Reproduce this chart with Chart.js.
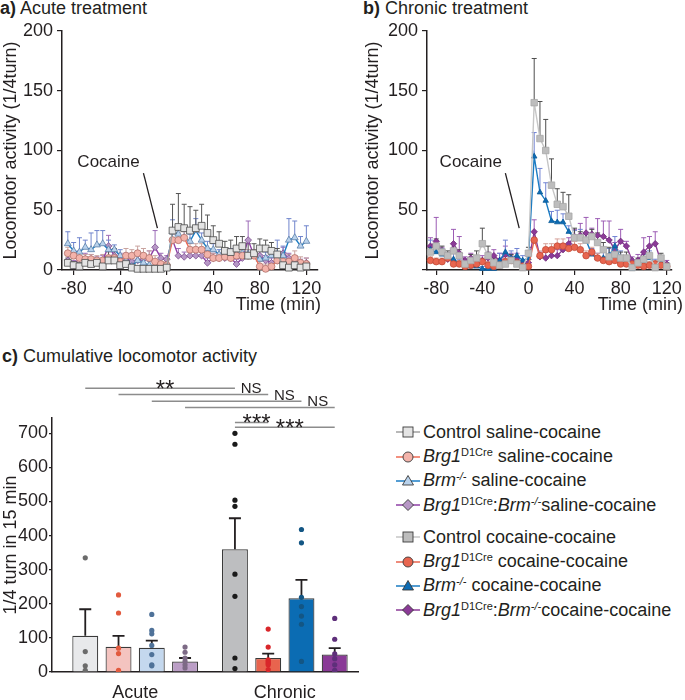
<!DOCTYPE html>
<html>
<head>
<meta charset="utf-8">
<script src="https://cdn.jsdelivr.net/npm/chart.js@4.4.1/dist/chart.umd.min.js"></script>
<style>
  body { margin: 0; background: #fff; font-family: 'Liberation Sans', Arial, sans-serif; color: #231f20; }
  #fig { position: relative; width: 685px; height: 700px; overflow: hidden; }
  canvas { position: absolute; }
  .ptitle { position: absolute; font-size: 18px; line-height: 20px; white-space: nowrap; }
  .xtitle { position: absolute; font-size: 18px; line-height: 20px; white-space: nowrap; }
  .legend { position: absolute; left: 396px; font-size: 18px; }
  .row { height: 24.4px; display: flex; align-items: center; white-space: nowrap; }
  .row svg { margin-right: 3px; flex: none; }
  sup { font-size: 11px; vertical-align: 6px; line-height: 0; }
</style>
</head>
<body>
<div id="fig">
  <div class="ptitle" style="left:0; top:-2px;"><b>a)</b> Acute treatment</div>
  <div class="ptitle" style="left:363px; top:-2px;"><b>b)</b> Chronic treatment</div>
  <div class="ptitle" style="left:2px; top:346px;"><b>c)</b> Cumulative locomotor activity</div>
  <canvas id="chartA" width="335" height="320" style="left:0; top:0;"></canvas>
  <canvas id="chartB" width="330" height="320" style="left:355px; top:0;"></canvas>
  <canvas id="chartC" width="370" height="330" style="left:0; top:370px;"></canvas>
  <div class="xtitle" style="right:364px; top:294px;">Time (min)</div>
  <div class="xtitle" style="right:2px; top:294px;">Time (min)</div>
  <div class="legend" id="legend1" style="top:420px;"></div>
  <div class="legend" id="legend2" style="top:525px;"></div>
</div>
<script>
// ===== data =====
// 5-min bins, cocaine injection at 0
const timePoints = [-85, -80, -75, -70, -65, -60, -55, -50, -45, -40, -35, -30, -25, -20, -15, -10, -5, 0,
  5, 10, 15, 20, 25, 30, 35, 40, 45, 50, 55, 60, 65, 70, 75, 80, 85, 90, 95, 100, 105, 110, 115, 120];

// a) acute (saline-cocaine), mean
const ctrlSaline = [6, 4, 3, 6, 5, 6, 3, 8, 8, 4, 5, 2, 1, 1, 1, 1, 1, 2,
  33, 36, 35, 33, 35, 37, 31, 25, 22, 16, 15, 18, 20, 12, 14, 18, 18, 16, 13, 4, 2, 4, 2, 3];
const brg1Saline = [14, 12, 10, 9, 9, 8, 8, 10, 10, 7, 12, 12, 14, 12, 10, 7, 5, 4,
  25, 25, 27, 17, 17, 17, 13, 10, 10, 11, 10, 12, 12, 12, 12, 3, 1, 3, 8, 7, 7, 10, 6, 5];
const brmSaline = [22, 16, 15, 19, 17, 21, 22, 17, 17, 12, 8, 3, 8, 6, 4, 2, 3, 3,
  32, 30, 27, 24, 33, 25, 18, 17, 13, 11, 14, 14, 14, 13, 12, 9, 10, 12, 13, 12, 25, 27, 20, 24];
const dblSaline = [8, 4, 10, 9, 8, 7, 8, 20, 12, 10, 10, 7, 8, 9, 10, 19, 10, 9,
  25, 12, 11, 12, 12, 12, 6, 10, 10, 10, 10, 5, 10, 25, 12, 12, 8, 6, 8, 14, 10, 8, 5, 6];
// a) SEM
const ctrlSalineErr = [4, 3, 3, 4, 4, 3, 3, 12, 10, 4, 5, 3, 2, 2, 2, 2, 2, 2,
  22, 28, 20, 20, 15, 18, 15, 12, 10, 8, 10, 10, 8, 10, 8, 8, 7, 7, 5, 5, 5, 5, 4, 4];
const brg1SalineErr = [5, 4, 5, 4, 4, 4, 5, 5, 5, 6, 6, 5, 6, 6, 6, 5, 4, 3,
  5, 6, 5, 5, 5, 5, 5, 4, 4, 4, 4, 5, 5, 5, 5, 4, 4, 4, 5, 6, 6, 6, 5, 5];
const brmSalineErr = [10, 7, 12, 6, 14, 12, 11, 8, 4, 5, 4, 3, 4, 3, 3, 3, 2, 2,
  10, 8, 7, 6, 10, 6, 6, 5, 4, 4, 4, 6, 5, 4, 4, 4, 5, 5, 12, 8, 18, 14, 8, 13];
const dblSalineErr = [5, 4, 6, 5, 5, 4, 4, 9, 5, 4, 4, 4, 4, 4, 6, 14, 4, 3,
  8, 6, 4, 4, 4, 4, 4, 4, 4, 4, 4, 4, 4, 16, 5, 5, 4, 4, 4, 5, 4, 4, 4, 4];

// b) chronic (cocaine-cocaine), mean
const ctrlCocaine = [15, 20, 15, 12, 16, 12, 5, 8, 10, 22, 12, 6, 4, 5, 8, 5, 2, 14,
  140, 110, 100, 71, 55, 53, 45, 27, 27, 25, 28, 23, 17, 11, 13, 10, 10, 2, 6, 9, 12, 2, 10, 3];
const brg1Cocaine = [8, 7, 7, 10, 5, 5, 3, 4, 5, 7, 4, 3, 4, 7, 8, 6, 3, 3,
  25, 12, 17, 17, 20, 20, 18, 19, 17, 12, 15, 10, 8, 7, 8, 5, 5, 5, 4, 3, 4, 5, 4, 3];
const brmCocaine = [17, 15, 13, 10, 9, 5, 4, 3, 3, 1, 1, 1, 8, 15, 10, 12, 8, 10,
  95, 65, 58, 41, 40, 40, 32, 27, 26, 25, 13, 10, 10, 12, 20, 10, 8, 1, 5, 8, 10, 5, 7, 3];
const dblCocaine = [20, 24, 15, 9, 22, 14, 8, 10, 8, 8, 10, 12, 8, 13, 10, 10, 5, 6,
  32, 11, 10, 12, 12, 17, 22, 28, 29, 31, 30, 29, 28, 25, 17, 24, 20, 8, 8, 15, 20, 22, 7, 5];
// b) SEM
const ctrlCocaineErr = [4, 6, 5, 4, 6, 5, 4, 5, 6, 13, 8, 4, 3, 4, 5, 4, 3, 5,
  37, 31, 26, 22, 13, 12, 18, 8, 5, 6, 6, 8, 6, 8, 5, 5, 5, 3, 4, 6, 7, 5, 4, 3];
const brg1CocaineErr = [3, 3, 3, 3, 3, 3, 2, 2, 3, 3, 3, 2, 3, 4, 4, 3, 2, 2,
  6, 4, 5, 5, 6, 6, 5, 5, 5, 4, 4, 4, 3, 3, 3, 3, 3, 2, 2, 3, 3, 3, 3, 2];
const brmCocaineErr = [8, 6, 5, 4, 5, 4, 3, 2, 2, 2, 2, 2, 6, 10, 6, 6, 4, 5,
  20, 20, 15, 8, 10, 7, 5, 6, 8, 6, 5, 4, 5, 6, 8, 6, 4, 2, 4, 5, 6, 4, 4, 3];
const dblCocaineErr = [7, 20, 4, 5, 12, 14, 3, 4, 4, 4, 5, 5, 6, 7, 4, 4, 3, 5,
  10, 4, 5, 4, 5, 5, 5, 6, 10, 13, 5, 14, 13, 16, 6, 10, 4, 3, 5, 12, 8, 10, 4, 3];

// c) cumulative activity (1/4 turn in 15 min)
const groupNames = ['Acute', 'Chronic'];
const barMeans = [106, 74, 71, 31, 360, 41, 216, 51];
const barSem = [78, 32, 21, 10, 91, 13, 54, 19];
const dotValues = [
  [335, 60, 18, 5],
  [226, 173, 70, 54, 5, 1],
  [169, 122, 112, 78, 51, 21, 18],
  [73, 58, 41, 31, 21, 12],
  [700, 668, 504, 486, 287, 222, 41, 10],
  [126, 73, 36, 31, 26, 21, 7],
  [418, 379, 219, 192, 164, 140, 31],
  [157, 96, 53, 39, 21, 5, 2]
];
const compareBars = [[0, 4], [1, 5], [2, 6], [3, 7], [4, 5], [4, 7]];
const compareLabels = ['**', 'NS', 'NS', 'NS', '***', '***'];

const legendNames = [
  'Control saline-cocaine',
  '<i>Brg1</i><sup>D1Cre</sup> saline-cocaine',
  '<i>Brm</i><sup><i>-/-</i></sup> saline-cocaine',
  '<i>Brg1</i><sup>D1Cre</sup>:<i>Brm</i><sup><i>-/-</i></sup>saline-cocaine',
  'Control cocaine-cocaine',
  '<i>Brg1</i><sup>D1Cre</sup> cocaine-cocaine',
  '<i>Brm</i><sup><i>-/-</i></sup> cocaine-cocaine',
  '<i>Brg1</i><sup>D1Cre</sup>:<i>Brm</i><sup><i>-/-</i></sup>cocaine-cocaine'
];

// ===== styles / layout =====
const ink = '#231f20';
const fontFamily = "'Liberation Sans', Arial, sans-serif";
const salineStyles = [
  { shape: 'rect', fill: '#e4e4e4', edge: '#4d4d4d', line: '#a0a0a0', err: '#555555', r: 4.8 },
  { shape: 'circle', fill: '#f3b3aa', edge: '#b0706a', line: '#ef6b55', err: '#c9a39f', r: 3.5 },
  { shape: 'triangle', fill: '#b9d2ec', edge: '#5a7fa8', line: '#1b7dc4', err: '#7085cc', r: 4 },
  { shape: 'rectRot', fill: '#b797c6', edge: '#7b4d8e', line: '#8f3fa6', err: '#9d6db8', r: 3.4 }
];
const cocaineStyles = [
  { shape: 'rect', fill: '#bdbdbd', edge: '#a8a8a8', line: '#c6c6c6', err: '#4d4d4d', r: 4.6 },
  { shape: 'circle', fill: '#e8654f', edge: '#c24b37', line: '#e8654f', err: '#d6a29a', r: 3.3 },
  { shape: 'triangle', fill: '#0d6cb4', edge: '#0a5a98', line: '#1a7bc2', err: '#7183d3', r: 3.2 },
  { shape: 'rectRot', fill: '#8b3a97', edge: '#6e2c7a', line: '#8b3a97', err: '#9c5cb4', r: 3.2 }
];
const barFills = ['#e8e9eb', '#f4c4c0', '#c4d8ee', '#bb9ec6', '#bdbec0', '#e8644e', '#0b6cb3', '#8a3a97'];
const dotColors = ['#6b6b6b', '#e25a3e', '#4f7299', '#7d6a86', '#1a1a1a', '#d9262a', '#135684', '#5e2f7a'];
const barSlots = [1, 2, 3, 4, 5.5, 6.5, 7.5, 8.5];
const groupCenters = [2.5, 7];
const bracketLevels = [832, 814, 794, 776, 732, 718];

Chart.defaults.font.family = fontFamily;
Chart.defaults.font.size = 18;
Chart.defaults.color = ink;

// ===== plugins =====
const timeErrorBars = {
  id: 'timeErrorBars',
  beforeDatasetsDraw(chart) {
    const { ctx, scales: { x, y } } = chart;
    ctx.save();
    chart.data.datasets.slice().reverse().forEach((ds) => {
      if (!ds.errors) return;
      ctx.strokeStyle = ds.errorColor;
      ctx.lineWidth = 1;
      ds.data.forEach((p, i) => {
        const px = x.getPixelForValue(p.x);
        const y0 = y.getPixelForValue(p.y);
        const y1 = y.getPixelForValue(p.y + ds.errors[i]);
        ctx.beginPath();
        ctx.moveTo(px, y0); ctx.lineTo(px, y1);
        ctx.moveTo(px - 2.5, y1); ctx.lineTo(px + 2.5, y1);
        ctx.stroke();
      });
    });
    ctx.restore();
  }
};

const cocaineNote = {
  id: 'cocaineNote',
  afterDatasetsDraw(chart, args, opts) {
    const { ctx, scales: { x, y } } = chart;
    ctx.save();
    ctx.font = '17px ' + fontFamily;
    ctx.fillStyle = ink;
    ctx.textAlign = 'center';
    ctx.textBaseline = 'middle';
    ctx.fillText('Cocaine', x.getPixelForValue(opts.text[0]), y.getPixelForValue(opts.text[1]));
    ctx.strokeStyle = ink;
    ctx.lineWidth = 1.3;
    ctx.beginPath();
    ctx.moveTo(x.getPixelForValue(opts.from[0]), y.getPixelForValue(opts.from[1]));
    ctx.lineTo(x.getPixelForValue(opts.to[0]), y.getPixelForValue(opts.to[1]));
    ctx.stroke();
    ctx.restore();
  }
};

const barErrorBars = {
  id: 'barErrorBars',
  afterDatasetDraw(chart, args) {
    const ds = chart.data.datasets[args.index];
    if (!ds.sem) return;
    const { ctx, scales: { x, y } } = chart;
    ctx.save();
    ctx.strokeStyle = ink;
    ctx.lineWidth = 1.8;
    ds.data.forEach((p, i) => {
      const px = x.getPixelForValue(p.x);
      const y0 = y.getPixelForValue(p.y);
      const y1 = y.getPixelForValue(p.y + ds.sem[i]);
      ctx.beginPath();
      ctx.moveTo(px, y0); ctx.lineTo(px, y1);
      ctx.moveTo(px - 6, y1); ctx.lineTo(px + 6, y1);
      ctx.stroke();
    });
    ctx.restore();
  }
};

const sigBrackets = {
  id: 'sigBrackets',
  afterDraw(chart) {
    const { ctx, scales: { x, y } } = chart;
    ctx.save();
    compareBars.forEach(([a, b], i) => {
      const x0 = x.getPixelForValue(barSlots[a]);
      const x1 = x.getPixelForValue(barSlots[b]);
      const py = y.getPixelForValue(bracketLevels[i]);
      ctx.strokeStyle = '#8c8c8c';
      ctx.lineWidth = 1.5;
      ctx.beginPath();
      ctx.moveTo(x0, py); ctx.lineTo(x1, py);
      ctx.stroke();
      ctx.fillStyle = ink;
      ctx.textAlign = 'center';
      ctx.textBaseline = 'alphabetic';
      if (compareLabels[i] === 'NS') {
        ctx.font = '15px ' + fontFamily;
        ctx.fillText('NS', x1 - 17, py - 1);
      } else {
        ctx.font = '24px ' + fontFamily;
        ctx.fillText(compareLabels[i], (x0 + x1) / 2 + 5, py + 9);
      }
    });
    ctx.restore();
  }
};

// ===== charts =====
function seriesSets(valueLists, errorLists, styles) {
  return valueLists.map((vals, i) => ({
    data: timePoints.map((t, k) => ({ x: t, y: vals[k] })),
    errors: errorLists[i],
    errorColor: styles[i].err,
    borderColor: styles[i].line,
    borderWidth: 1.4,
    pointStyle: styles[i].shape,
    pointRadius: styles[i].r,
    pointBackgroundColor: styles[i].fill,
    pointBorderColor: styles[i].edge,
    pointBorderWidth: 0.8,
    clip: 10
  }));
}

function makeTimeChart(id, datasets, xRange, yAxisWidth, padRight, titlePad, showZero) {
  return new Chart(document.getElementById(id), {
    type: 'line',
    data: { datasets },
    options: {
      responsive: false,
      animation: false,
      layout: { padding: { top: 31, right: padRight, left: 0, bottom: 0 } },
      plugins: {
        legend: { display: false },
        tooltip: { enabled: false },
        cocaineNote: { text: [-50, 90], from: [-20, 81], to: [-8, 35] }
      },
      scales: {
        x: {
          type: 'linear', min: xRange[0], max: xRange[1],
          ticks: { stepSize: 40, includeBounds: false, autoSkip: false, maxRotation: 0, padding: 3 },
          grid: { drawOnChartArea: false, tickLength: 5, color: ink, lineWidth: 1.2 },
          border: { color: ink, width: 1.5 },
          afterFit: (s) => { s.height = 50; }
        },
        y: {
          min: 0, max: 200,
          ticks: { stepSize: 50, padding: 4, callback: (v) => (v === 0 && !showZero) ? '' : v },
          grid: { drawOnChartArea: false, tickLength: 5, color: ink, lineWidth: 1.2 },
          border: { color: ink, width: 1.5 },
          title: { display: true, text: 'Locomotor activity (1/4turn)', padding: { top: titlePad, bottom: 0 } },
          afterFit: (s) => { s.width = yAxisWidth; }
        }
      }
    },
    plugins: [timeErrorBars, cocaineNote]
  });
}

makeTimeChart('chartA',
  seriesSets([ctrlSaline, brg1Saline, brmSaline, dblSaline],
    [ctrlSalineErr, brg1SalineErr, brmSalineErr, dblSalineErr], salineStyles),
  [-90, 130], 62, 17, 0, true);

makeTimeChart('chartB',
  seriesSets([ctrlCocaine, brg1Cocaine, brmCocaine, dblCocaine],
    [ctrlCocaineErr, brg1CocaineErr, brmCocaineErr, dblCocaineErr], cocaineStyles),
  [-88, 124], 72, 12, 7, false);

new Chart(document.getElementById('chartC'), {
  type: 'bar',
  data: {
    datasets: [
      {
        type: 'bar',
        data: barMeans.map((m, i) => ({ x: barSlots[i], y: m })),
        sem: barSem,
        backgroundColor: barFills,
        borderColor: '#3a3a3a',
        borderWidth: 1.2,
        barPercentage: 0.78,
        categoryPercentage: 1,
        order: 1
      },
      ...dotValues.map((vals, i) => ({
        type: 'scatter',
        data: vals.map((v) => ({ x: barSlots[i], y: v })),
        pointRadius: 2.6,
        pointBackgroundColor: dotColors[i],
        pointBorderWidth: 0,
        order: 0
      }))
    ]
  },
  options: {
    responsive: false,
    animation: false,
    layout: { padding: { top: 48, right: 12, left: 0, bottom: 0 } },
    plugins: { legend: { display: false }, tooltip: { enabled: false } },
    scales: {
      x: {
        type: 'linear', min: 0, max: 9.2, offset: false,
        afterBuildTicks: (s) => { s.ticks = groupCenters.map((v) => ({ value: v })); },
        ticks: { autoSkip: false, maxRotation: 0, padding: 10, callback: (v, i) => groupNames[i] },
        grid: { drawOnChartArea: false, drawTicks: false },
        border: { color: ink, width: 1.5 },
        afterFit: (s) => { s.height = 28; }
      },
      y: {
        min: 0, max: 745,
        ticks: { stepSize: 100, includeBounds: false, padding: 1 },
        grid: { drawOnChartArea: false, tickLength: 3, color: ink, lineWidth: 1.2 },
        border: { color: ink, width: 1.5 },
        title: { display: true, text: '1/4 turn in 15 min', padding: { top: 0, bottom: 0 } },
        afterFit: (s) => { s.width = 52; }
      }
    }
  },
  plugins: [barErrorBars, sigBrackets]
});

// ===== legend =====
function markerSvg(st) {
  const c = 12, m = 7;
  let shape = '';
  const paint = `fill="${st.fill}" stroke="#3a3a3a" stroke-width="0.9"`;
  if (st.shape === 'rect') shape = `<rect x="${c - 5}" y="${m - 5}" width="10" height="10" ${paint}/>`;
  if (st.shape === 'circle') shape = `<circle cx="${c}" cy="${m}" r="5" ${paint}/>`;
  if (st.shape === 'triangle') shape = `<polygon points="${c},${m - 5.5} ${c + 5.5},${m + 4} ${c - 5.5},${m + 4}" ${paint}/>`;
  if (st.shape === 'rectRot') shape = `<polygon points="${c},${m - 5.5} ${c + 5.5},${m} ${c},${m + 5.5} ${c - 5.5},${m}" ${paint}/>`;
  return `<svg width="24" height="14"><line x1="0" y1="${m}" x2="24" y2="${m}" stroke="${st.line}" stroke-width="1.5"/>${shape}</svg>`;
}

function buildLegend(id, names, styles) {
  document.getElementById(id).innerHTML = names
    .map((n, i) => `<div class="row">${markerSvg(styles[i])}<span>${n}</span></div>`)
    .join('');
}

buildLegend('legend1', legendNames.slice(0, 4), salineStyles);
buildLegend('legend2', legendNames.slice(4), cocaineStyles);
</script>
</body>
</html>
